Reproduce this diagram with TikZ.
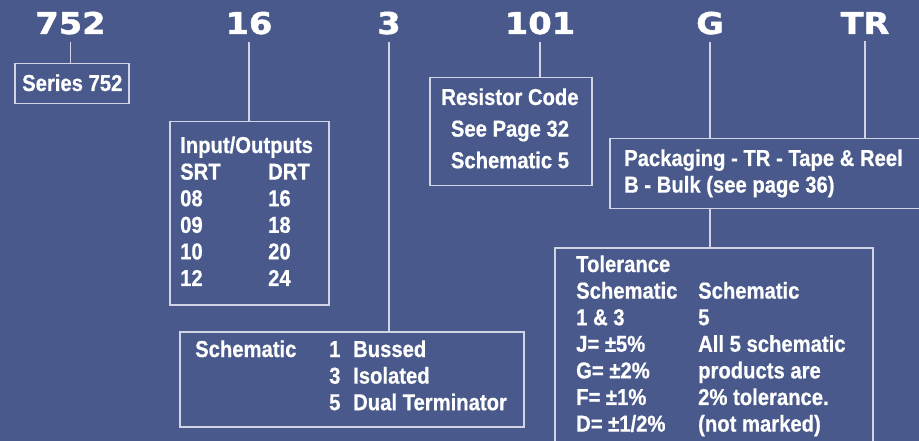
\documentclass[tikz,border=0pt]{standalone}
\usepackage{fontspec}
\newfontfamily\titre[FakeStretch=1.12,FakeBold=1.6]{DejaVu Sans Bold}
\newfontfamily\corps[FakeStretch=0.88,FakeBold=0.6]{Liberation Sans Bold}
\definecolor{fond}{RGB}{73,89,139}
\definecolor{trait}{RGB}{208,212,228}
\begin{document}
\begin{tikzpicture}[x=1pt,y=-1pt,
  code/.style={text=white,font=\titre\fontsize{30}{30}\selectfont,anchor=base,inner xsep=0pt,inner ysep=7pt},
  boite/.style={draw=trait,line width=1.5pt,anchor=north west,inner sep=0pt},
  texte/.style={text=white,font=\corps\fontsize{23}{26.6}\selectfont,anchor=base west,inner sep=0pt},
  lien/.style={draw=trait,line width=1.5pt}]
%fond
\path[use as bounding box,fill=fond] (0,0) rectangle (919,441);
\clip (0,0) rectangle (919,441);
%codes
\node[code] (c752) at (70.5,34) {752};
\node[code] (c16) at (249,34) {16};
\node[code] (c3) at (389,34) {3};
\node[code] (c101) at (540,34) {101};
\node[code] (cG) at (710,34) {G};
\node[code] (cTR) at (865,34) {TR};
%boites
\node[boite,minimum width=114pt,minimum height=40pt] (serie) at (14,63) {};
\node[boite,minimum width=159pt,minimum height=183pt] (entrees) at (169,121) {};
\node[boite,minimum width=344pt,minimum height=95pt] (schema) at (179,331) {};
\node[boite,minimum width=162pt,minimum height=108pt] (resist) at (429,77) {};
\node[boite,minimum width=320pt,minimum height=70pt] (emball) at (609,138) {};
\node[boite,minimum width=318pt,minimum height=210pt] (toler) at (554,247) {};
%textes
\node[texte] (tserie) at (22,91) {Series 752};
\node[texte] (tentrees) at (180,153) {\begin{tabular}[t]{@{}p{88pt}@{}l@{}}
  \multicolumn{2}{@{}l@{}}{Input/Outputs}\\ SRT & DRT\\ 08 & 16\\ 09 & 18\\ 10 & 20\\ 12 & 24
  \end{tabular}};
\node[texte] (tschema) at (195,357) {\begin{tabular}[t]{@{}p{134pt}@{}p{24pt}@{}l@{}}
  Schematic & 1 & Bussed\\ & 3 & Isolated\\ & 5 & Dual Terminator
  \end{tabular}};
\node[texte,anchor=base] (tresist) at (510,105) {\begin{tabular}[t]{@{}c@{}}
  Resistor Code\\[5pt] See Page 32\\[5pt] Schematic 5
  \end{tabular}};
\node[texte] (temball) at (624,166) {\begin{tabular}[t]{@{}l@{}}
  Packaging - TR - Tape \& Reel\\ B - Bulk (see page 36)
  \end{tabular}};
\node[texte] (ttoler) at (576,272) {\begin{tabular}[t]{@{}p{122pt}@{}l@{}}
  Tolerance & \\ Schematic & Schematic\\ 1 \& 3 & 5\\ J= ±5\% & All 5 schematic\\
  G= ±2\% & products are\\ F= ±1\% & 2\% tolerance.\\ D= ±1/2\% & (not marked)
  \end{tabular}};
%liens
\draw[lien] (c752.south) -- (c752.south |- serie.north);
\draw[lien] (c16.south) -- (c16.south |- entrees.north);
\draw[lien] (c3.south) -- (c3.south |- schema.north);
\draw[lien] (c101.south) -- (c101.south |- resist.north);
\draw[lien] (cG.south) -- (cG.south |- emball.north);
\draw[lien] (cTR.south) -- (cTR.south |- emball.north);
\draw[lien] (cG |- emball.south) -- (cG |- toler.north);
\end{tikzpicture}
\end{document}
